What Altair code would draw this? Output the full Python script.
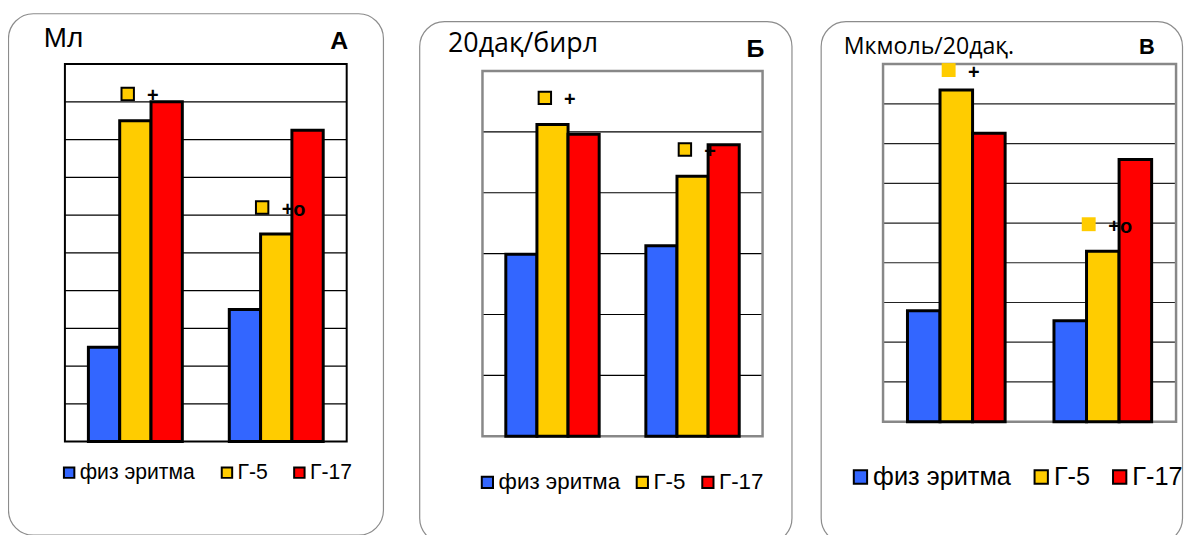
import altair as alt
import pandas as pd

# ---------------- data ----------------
groups = ["1", "2"]
series = ["физ эритма", "Г-5", "Г-17"]
series_colors = ["#3366FF", "#FFCC00", "#FF0000"]

# Panel А (Мл)
a_fiz = [2.5, 3.5]
a_g5 = [8.5, 5.5]
a_g17 = [9.0, 8.25]
a_mark_y = [9.21, 6.2]
a_mark_text = ["+", "+o"]
a_ymax = 10

# Panel Б (20дақ/бирл)
b_fiz = [2.99, 3.13]
b_g5 = [5.12, 4.27]
b_g17 = [4.96, 4.79]
b_mark_y = [5.56, 4.71]
b_mark_text = ["+", "+"]
b_ymax = 6

# Panel В (Мкмоль/20дақ.)
c_fiz = [2.79, 2.54]
c_g5 = [8.35, 4.29]
c_g17 = [7.26, 6.6]
c_mark_y = [8.85, 4.97]
c_mark_text = ["+", "+o"]
c_ymax = 9

titles = ["Мл", "20дақ/бирл", "Мкмоль/20дақ."]
letters = ["А", "Б", "В"]

# ---------------- layout (page pixels) ----------------
O = 8  # page margin
W, H = 1184, 527

LAYOUT = [
    dict(box=(8.5, 12, 386, 537), plot=(65.3, 62.7, 349, 442.7),
         frame="#000000", frame_w=2, grid="#000000",
         title_xy=(44, 45), title_size=28, title_font="Liberation Sans",
         letter_xy=(350.5, 47.8), letter_size=25,
         leg_x=58.9, leg_cy=474, leg_font=21.3, leg_sym=10.5, col_pad=20.9,
         sq_stroke=2, sq_size=156),
    dict(box=(422.5, 20, 797.3, 545), plot=(485.7, 69.7, 767.7, 437.3),
         frame="#888888", frame_w=2.5, grid="#000000",
         title_xy=(451, 50.8), title_size=27, title_font="Open Sans",
         letter_xy=(769.5, 56), letter_size=25,
         leg_x=479.4, leg_cy=483.6, leg_font=22.5, leg_sym=11.3, col_pad=11,
         sq_stroke=2, sq_size=156),
    dict(box=(826.7, 20, 1190.5, 545), plot=(889, 62.7, 1184, 422.7),
         frame="#888888", frame_w=2.5, grid="#222222",
         title_xy=(849.5, 53), title_size=23.3, title_font="Open Sans",
         letter_xy=(1162.5, 53), letter_size=22,
         leg_x=853.5, leg_cy=478, leg_font=25.5, leg_sym=13.4, col_pad=17,
         sq_stroke=0, sq_size=196),
]

one = pd.DataFrame({"k": [0]})


def panel(vals, ymax, mark_y, mark_text, title, letter, L):
    x0, y0, x1, y1 = [v - O for v in L["plot"]]
    bx0, by0, bx1, by1 = [v - O for v in L["box"]]
    half_band = (x1 - x0) / len(groups) / 2

    bars_df = pd.DataFrame([
        {"group": g, "series": s, "value": v}
        for s, vs in zip(series, vals) for g, v in zip(groups, vs)
    ])
    ann_df = pd.DataFrame({"group": groups, "value": mark_y, "label": mark_text})
    grid_df = pd.DataFrame({"value": list(range(1, ymax))})

    xs = alt.Scale(domain=groups, range=[x0, x1], paddingInner=0, paddingOuter=0)
    ys = alt.Scale(domain=[0, ymax], range=[y1, y0], nice=False, zero=True)
    X = alt.X("group:N", scale=xs, axis=None)
    Y = alt.Y("value:Q", scale=ys, axis=None)
    XO = alt.XOffset("series:N", scale=alt.Scale(domain=series, paddingInner=0, paddingOuter=0.75))

    border = alt.Chart(one).mark_rect(
        cornerRadius=25, fill="white", stroke="#8c8c8c", strokeWidth=1.2
    ).encode(x=alt.value(bx0), x2=alt.value(bx1), y=alt.value(by0), y2=alt.value(by1))

    grid = alt.Chart(grid_df).mark_rule(color=L["grid"], strokeWidth=1.2).encode(
        y=Y, x=alt.value(x0), x2=alt.value(x1))

    frame = alt.Chart(one).mark_rect(
        fill="transparent", stroke=L["frame"], strokeWidth=L["frame_w"]
    ).encode(x=alt.value(x0), x2=alt.value(x1), y=alt.value(y0), y2=alt.value(y1))

    symw = L["leg_sym"] + 2
    row_h = max(symw, L["leg_font"])
    bars = alt.Chart(bars_df).mark_bar(stroke="black", strokeWidth=3).encode(
        x=X, xOffset=XO, y=Y,
        color=alt.Color(
            "series:N",
            scale=alt.Scale(domain=series, range=series_colors),
            legend=alt.Legend(
                orient="none", legendX=L["leg_x"] - O, legendY=L["leg_cy"] - O - row_h / 2,
                direction="horizontal", title=None, padding=0,
                symbolType="square", symbolSize=L["leg_sym"] ** 2,
                symbolStrokeColor="black", symbolStrokeWidth=2, symbolOpacity=1,
                labelFont="Liberation Sans", labelFontSize=L["leg_font"],
                labelColor="black", labelOffset=0,
                columnPadding=L["col_pad"], labelLimit=400,
            ),
        ),
    )

    sq_kw = dict(shape="square", filled=True, fill="#FFCC00", opacity=1,
                 size=L["sq_size"])
    if L["sq_stroke"] > 0:
        sq_kw.update(stroke="black", strokeWidth=L["sq_stroke"])
    sq1 = alt.Chart(ann_df).mark_point(**sq_kw).transform_filter(
        alt.datum.label == "+").encode(x=X, y=Y, xOffset=alt.value(half_band - 7.7))
    sq2 = alt.Chart(ann_df).mark_point(**sq_kw).transform_filter(
        alt.datum.label == "+o").encode(x=X, y=Y, xOffset=alt.value(half_band - 14.2))
    txt = alt.Chart(ann_df).mark_text(
        font="Liberation Sans", fontSize=20, fontWeight="bold", color="black",
        align="center", baseline="middle", dx=17.5, dy=2.5
    ).encode(x=X, y=Y, text="label:N")

    tx, ty = L["title_xy"]
    ttl = alt.Chart(one).mark_text(
        text=title, font=L["title_font"], fontSize=L["title_size"], color="black",
        align="left", baseline="alphabetic"
    ).encode(x=alt.value(tx - O), y=alt.value(ty - O))
    lx2, ly2 = L["letter_xy"]
    let = alt.Chart(one).mark_text(
        text=letter, font="Liberation Sans", fontSize=L["letter_size"], fontWeight="bold",
        color="black", align="right", baseline="alphabetic"
    ).encode(x=alt.value(lx2 - O), y=alt.value(ly2 - O))

    return alt.layer(border, grid, frame, bars, sq1, sq2, txt, ttl, let)


pA = panel([a_fiz, a_g5, a_g17], a_ymax, a_mark_y, a_mark_text, titles[0], letters[0], LAYOUT[0])
pB = panel([b_fiz, b_g5, b_g17], b_ymax, b_mark_y, b_mark_text, titles[1], letters[1], LAYOUT[1])
pC = panel([c_fiz, c_g5, c_g17], c_ymax, c_mark_y, c_mark_text, titles[2], letters[2], LAYOUT[2])

chart = alt.layer(pA, pB, pC).resolve_scale(
    x="independent", y="independent", color="independent", xOffset="independent"
).properties(
    width=W, height=H, padding=0, background="white",
    autosize=alt.AutoSizeParams(type="none"),
).configure_view(strokeWidth=0)

chart.save("out.html", embed_options={"renderer": "svg", "actions": False})
